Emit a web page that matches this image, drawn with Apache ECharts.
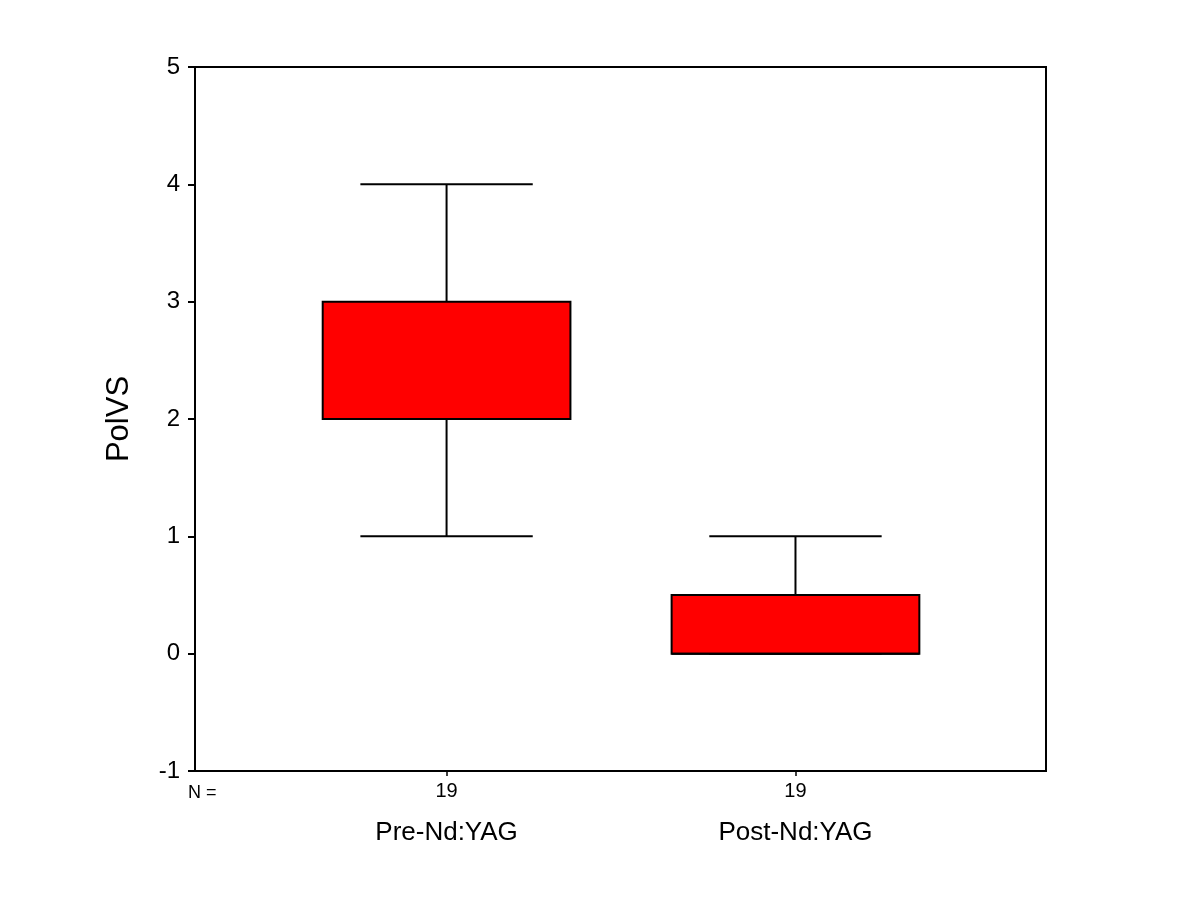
<!DOCTYPE html>
<html>
<head>
<meta charset="utf-8">
<script src="https://cdn.jsdelivr.net/npm/echarts@6/dist/echarts.min.js"></script>
<style>html,body{margin:0;padding:0;background:#fff;}#c{width:1200px;height:900px;}</style>
</head>
<body>
<div id="c"></div>
<script>
// Data
const categories = ['Pre-Nd:YAG', 'Post-Nd:YAG'];
const positions = [1, 2];
const nCounts = [19, 19];
// [min, Q1, median, Q3, max]
const preStats = [1, 2, 2, 3, 4];
const postStats = [0, 0, 0, 0.5, 1];
const yTicks = [-1, 0, 1, 2, 3, 4, 5];

const boxHalf = 0.355;
const capHalf = 0.247;

const chart = echarts.init(document.getElementById('c'));
const font = '"Liberation Sans", Arial, sans-serif';

const seriesData = [
  [positions[0]].concat(preStats),
  [positions[1]].concat(postStats)
];

function renderItem(params, api) {
  const x = api.value(0);
  const mn = api.value(1), q1 = api.value(2), md = api.value(3), q3 = api.value(4), mx = api.value(5);
  const pMinL = api.coord([x - capHalf, mn]);
  const pMinR = api.coord([x + capHalf, mn]);
  const pMaxL = api.coord([x - capHalf, mx]);
  const pMaxR = api.coord([x + capHalf, mx]);
  const pQ1 = api.coord([x, q1]);
  const pQ3 = api.coord([x, q3]);
  const pMin = api.coord([x, mn]);
  const pMax = api.coord([x, mx]);
  const bL = api.coord([x - boxHalf, q3]);
  const bR = api.coord([x + boxHalf, q1]);
  const mL = api.coord([x - boxHalf, md]);
  const mR = api.coord([x + boxHalf, md]);
  const ls = { stroke: '#000', lineWidth: 2 };
  return {
    type: 'group',
    children: [
      { type: 'line', shape: { x1: pMax[0], y1: pMax[1], x2: pQ3[0], y2: pQ3[1] }, style: ls },
      { type: 'line', shape: { x1: pQ1[0], y1: pQ1[1], x2: pMin[0], y2: pMin[1] }, style: ls },
      { type: 'line', shape: { x1: pMaxL[0], y1: pMaxL[1], x2: pMaxR[0], y2: pMaxR[1] }, style: ls },
      { type: 'line', shape: { x1: pMinL[0], y1: pMinL[1], x2: pMinR[0], y2: pMinR[1] }, style: ls },
      { type: 'rect', shape: { x: bL[0], y: bL[1], width: bR[0] - bL[0], height: bR[1] - bL[1] },
        style: { fill: '#ff0000', stroke: '#000', lineWidth: 2 } },
      { type: 'line', shape: { x1: mL[0], y1: mL[1], x2: mR[0], y2: mR[1] }, style: ls }
    ]
  };
}

const xMin = 0.279, xMax = 2.718;

chart.setOption({
  backgroundColor: '#fff',
  animation: false,
  grid: { left: 195, right: 154, top: 67, bottom: 129, show: true, borderColor: '#000', borderWidth: 2, backgroundColor: 'transparent' },
  xAxis: [
    {
      type: 'value', min: xMin, max: xMax, position: 'bottom',
      splitLine: { show: false },
      axisLine: { show: true, onZero: false, lineStyle: { color: '#000', width: 2 } },
      axisTick: { show: true, customValues: positions, length: 5, inside: false, lineStyle: { color: '#000', width: 1.5 } },
      axisLabel: { show: true, customValues: positions, margin: 10, color: '#000', fontFamily: font, fontSize: 20,
        formatter: v => { const i = positions.indexOf(v); return i >= 0 ? String(nCounts[i]) : ''; } }
    },
    {
      type: 'value', min: xMin, max: xMax, position: 'bottom', offset: 0,
      splitLine: { show: false },
      axisLine: { show: false, onZero: false }, axisTick: { show: false },
      axisLabel: { show: true, customValues: positions, margin: 49, color: '#000', fontFamily: font, fontSize: 26,
        formatter: v => { const i = positions.indexOf(v); return i >= 0 ? categories[i] : ''; } }
    }
  ],
  yAxis: {
    type: 'value', min: yTicks[0], max: yTicks[yTicks.length - 1], interval: 1,
    name: 'PolVS', nameLocation: 'middle', nameGap: 60, nameRotate: 90,
    nameTextStyle: { color: '#000', fontFamily: font, fontSize: 31 },
    splitLine: { show: false },
    axisLine: { show: true, onZero: false, lineStyle: { color: '#000', width: 2 } },
    axisTick: { show: true, length: 7, inside: false, lineStyle: { color: '#000', width: 2 } },
    axisLabel: { margin: 15, color: '#000', fontFamily: font, fontSize: 24 }
  },
  graphic: [
    { type: 'text', left: 188, top: 784, style: { text: 'N =', fill: '#000', font: '18px ' + font } }
  ],
  series: [
    { type: 'custom', xAxisIndex: 0, renderItem: renderItem, data: seriesData, encode: { x: 0, y: [1, 2, 3, 4, 5] } }
  ]
});
</script>
</body>
</html>
